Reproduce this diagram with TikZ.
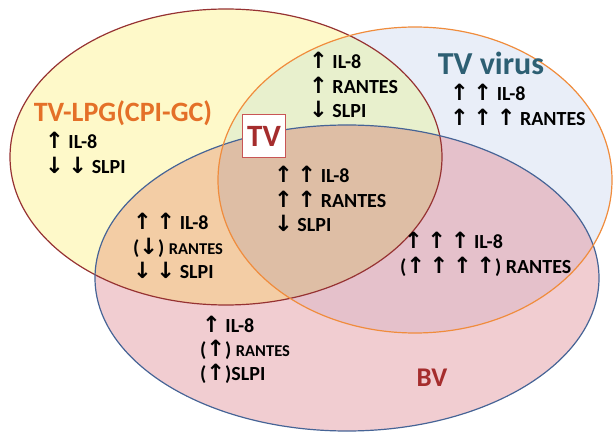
\documentclass[tikz,border=0pt]{standalone}
\usepackage{fontspec}
\setmainfont{Carlito}
\newfontfamily\arrowfont[Scale=1.12]{DejaVu Sans}
\newcommand\up{{\arrowfont ↑}}
\newcommand\dn{{\arrowfont ↓}}
\definecolor{lpgfill}{RGB}{254,249,201}
\definecolor{virfill}{RGB}{233,238,248}
\definecolor{bvfill}{RGB}{241,205,209}
\definecolor{lpgvir}{RGB}{232,240,205}
\definecolor{lpgbv}{RGB}{243,205,165}
\definecolor{virbv}{RGB}{229,193,203}
\definecolor{allthree}{RGB}{222,190,165}
\definecolor{lpgline}{RGB}{150,50,50}
\definecolor{virline}{RGB}{240,140,60}
\definecolor{bvline}{RGB}{70,100,150}
\definecolor{lpgtitle}{RGB}{228,112,40}
\definecolor{virtitle}{RGB}{45,95,115}
\definecolor{tvred}{RGB}{165,45,45}
\definecolor{tvbox}{RGB}{200,85,85}

\begin{document}
\begin{tikzpicture}[x=1pt,y=-1pt,
line/.style={font=\fontsize{20}{24}\selectfont\bfseries, anchor=base west, inner sep=0pt},
title/.style={font=\fontsize{28}{32}\selectfont\bfseries, inner sep=0pt}]
\tikzstyle{small}=[font=\fontsize{16.5}{20}\selectfont\bfseries]
 \def\lpg{(226,157) ellipse [x radius=216pt, y radius=148pt]}
 \def\vir{(415,180) ellipse [x radius=197pt, y radius=153pt]}
 \def\bv{(347,278) ellipse [x radius=252pt, y radius=153pt]}
 \def\ls{24.5}
\useasboundingbox (0,0) rectangle (614,433);
%sets
\fill[lpgfill] \lpg;
\fill[virfill] \vir;
\fill[bvfill] \bv;
\begin{scope}
 \clip \lpg;
 \fill[lpgvir] \vir;
 \fill[lpgbv] \bv;
\end{scope}
\begin{scope}
 \clip \vir;
 \fill[virbv] \bv;
 \clip \bv;
 \fill[allthree] \lpg;
\end{scope}
\draw[lpgline, line width=1.2pt] \lpg;
\draw[bvline, line width=1.2pt] \bv;
\draw[virline, line width=1.2pt] \vir;
%titles
\node[title, text=lpgtitle] (lpgname) at (123,113) {TV-LPG(CPI-GC)};
\node[title, text=virtitle, font=\fontsize{32}{36}\selectfont\bfseries] (virname) at (491,63) {TV virus};
\node[title, text=tvred, fill=white, draw=tvbox, line width=1.5pt, font=\fontsize{31}{34}\selectfont\bfseries,
 minimum width=43pt, minimum height=43pt] (tvname) at (264,136) {TV};
\node[title, text=tvred, font=\fontsize{27}{30}\selectfont\bfseries] (bvname) at (432,378) {BV};
%TV-LPG only
\node[line] (lpga) at (45,149)       {\up{} IL-8};
\node[line] (lpgb) at (45,149+\ls)   {\dn{} \dn{} SLPI};
%TV-LPG and TV virus
\node[line] (lva) at (309,69)        {\up{} IL-8};
\node[line] (lvb) at (309,69+\ls)    {\up{} RANTES};
\node[line] (lvc) at (309,69+2*\ls)  {\dn{} SLPI};
%TV virus only
\node[line] (vira) at (450,101)      {\up{} \up{} IL-8};
\node[line] (virb) at (450,101+\ls)  {\up{} \up{} \up{} RANTES};
%all three
\node[line] (alla) at (274,183)      {\up{} \up{} IL-8};
\node[line] (allb) at (274,183+\ls)  {\up{} \up{} RANTES};
\node[line] (allc) at (274,183+2*\ls) {\dn{} SLPI};
%TV-LPG and BV
\node[line] (lba) at (133,230)       {\up{} \up{} IL-8};
\node[line] (lbb) at (133,230+\ls)   {(\dn) {\fontsize{16.5}{20}\selectfont RANTES}};
\node[line] (lbc) at (133,230+2*\ls) {\dn{} \dn{} SLPI};
%TV virus and BV
\node[line] (vba) at (404,249)       {\up{} \up{} \up{} IL-8};
\node[line] (vbb) at (400,249+\ls)   {(\up{} \up{} \up{} \up) RANTES};
%BV only
\node[line] (bva) at (202,332)       {\up{} IL-8};
\node[line] (bvb) at (200,332+\ls)   {(\up) {\fontsize{16.5}{20}\selectfont RANTES}};
\node[line] (bvc) at (200,332+2*\ls) {(\up)SLPI};
\end{tikzpicture}
\end{document}
